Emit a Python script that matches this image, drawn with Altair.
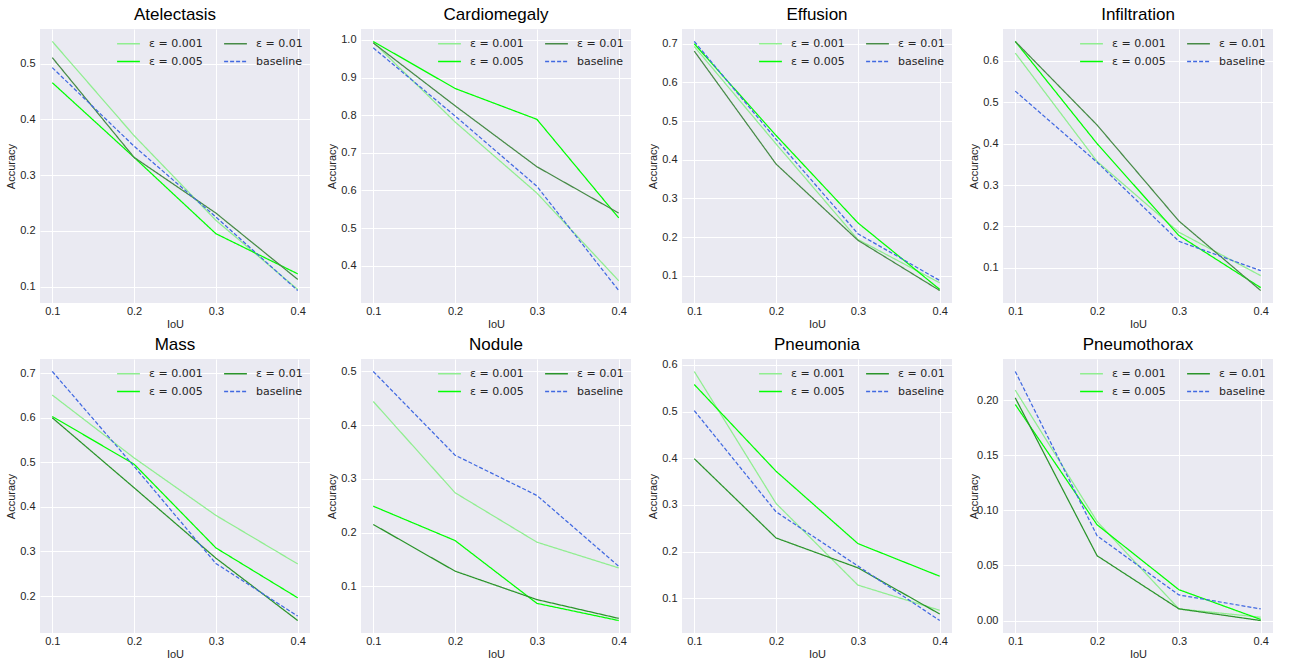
import altair as alt
import pandas as pd

# IoU thresholds on the x axis
iou = [0.1, 0.2, 0.3, 0.4]

diseases = ["Atelectasis", "Cardiomegaly", "Effusion", "Infiltration",
            "Mass", "Nodule", "Pneumonia", "Pneumothorax"]

# Localization accuracy per disease, one list per IoU threshold
acc_eps_0001 = {
    "Atelectasis":  [0.540, 0.371, 0.219, 0.095],
    "Cardiomegaly": [0.994, 0.782, 0.593, 0.360],
    "Effusion":     [0.693, 0.441, 0.194, 0.082],
    "Infiltration": [0.619, 0.357, 0.186, 0.081],
    "Mass":         [0.651, 0.510, 0.381, 0.272],
    "Nodule":       [0.444, 0.274, 0.182, 0.134],
    "Pneumonia":    [0.586, 0.303, 0.128, 0.074],
    "Pneumothorax": [0.209, 0.0899, 0.0106, 0.003],
}
acc_eps_0005 = {
    "Atelectasis":  [0.466, 0.332, 0.195, 0.123],
    "Cardiomegaly": [0.996, 0.871, 0.789, 0.527],
    "Effusion":     [0.700, 0.463, 0.237, 0.065],
    "Infiltration": [0.647, 0.400, 0.178, 0.052],
    "Mass":         [0.603, 0.496, 0.308, 0.196],
    "Nodule":       [0.249, 0.185, 0.068, 0.036],
    "Pneumonia":    [0.558, 0.372, 0.217, 0.147],
    "Pneumothorax": [0.196, 0.0869, 0.028, 0.001],
}
acc_eps_001 = {
    "Atelectasis":  [0.511, 0.332, 0.232, 0.113],
    "Cardiomegaly": [0.992, 0.825, 0.663, 0.540],
    "Effusion":     [0.681, 0.389, 0.192, 0.062],
    "Infiltration": [0.647, 0.445, 0.213, 0.045],
    "Mass":         [0.600, 0.443, 0.285, 0.145],
    "Nodule":       [0.215, 0.128, 0.075, 0.040],
    "Pneumonia":    [0.399, 0.229, 0.165, 0.066],
    "Pneumothorax": [0.202, 0.0588, 0.0106, 0.000],
}
acc_baseline = {
    "Atelectasis":  [0.493, 0.352, 0.225, 0.093],
    "Cardiomegaly": [0.979, 0.798, 0.611, 0.334],
    "Effusion":     [0.706, 0.453, 0.209, 0.088],
    "Infiltration": [0.527, 0.355, 0.164, 0.093],
    "Mass":         [0.704, 0.491, 0.273, 0.155],
    "Nodule":       [0.500, 0.344, 0.269, 0.137],
    "Pneumonia":    [0.502, 0.285, 0.169, 0.052],
    "Pneumothorax": [0.226, 0.0769, 0.0232, 0.0106],
}

# y-axis tick labels for each panel
y_ticks = {
    "Atelectasis":  [0.1, 0.2, 0.3, 0.4, 0.5],
    "Cardiomegaly": [0.3, 0.4, 0.5, 0.6, 0.7, 0.8, 0.9, 1.0],
    "Effusion":     [0.1, 0.2, 0.3, 0.4, 0.5, 0.6, 0.7],
    "Infiltration": [0.1, 0.2, 0.3, 0.4, 0.5, 0.6],
    "Mass":         [0.2, 0.3, 0.4, 0.5, 0.6, 0.7],
    "Nodule":       [0.1, 0.2, 0.3, 0.4, 0.5],
    "Pneumonia":    [0.1, 0.2, 0.3, 0.4, 0.5, 0.6],
    "Pneumothorax": [0.00, 0.05, 0.10, 0.15, 0.20],
}

series = [("ε = 0.001", acc_eps_0001), ("ε = 0.005", acc_eps_0005),
          ("ε = 0.01", acc_eps_001), ("baseline", acc_baseline)]

legend_order = [label for label, _ in series]
dashes = [[1, 0], [1, 0], [1, 0], [4, 2]]

BG = "#EAEAF2"
PW, PH = 270, 274


def panel(name, row):
    rows = []
    for label, table in series:
        for x, y in zip(iou, table[name]):
            rows.append({"iou": x, "acc": y, "series": label})
    df = pd.DataFrame(rows)

    lo, hi = df["acc"].min(), df["acc"].max()
    pad = 0.05 * (hi - lo)
    xlo, xhi = min(iou), max(iou)
    xpad = 0.05 * (xhi - xlo)

    dark = "#478b47" if row == 0 else "#2b952b"
    colors = ["#90ee90", "#00ff00", dark, "#4169e1"]
    fmt = ".2f" if name == "Pneumothorax" else ".1f"

    leg = alt.Legend(title=None, orient="none", legendX=76, legendY=2, columns=2,
                     symbolType="stroke", symbolSize=520, symbolStrokeWidth=1.3,
                     labelFont="DejaVu Sans", labelFontSize=11,
                     labelColor="#262626", labelOffset=8,
                     rowPadding=-12, columnPadding=18, padding=0)

    return alt.Chart(df).mark_line(strokeWidth=1.25).encode(
        x=alt.X("iou:Q",
                scale=alt.Scale(domain=[xlo - xpad, xhi + xpad], nice=False, zero=False),
                axis=alt.Axis(values=iou, format=".1f", title="IoU")),
        y=alt.Y("acc:Q",
                scale=alt.Scale(domain=[lo - pad, hi + pad], nice=False, zero=False),
                axis=alt.Axis(values=y_ticks[name], format=fmt, title="Accuracy")),
        color=alt.Color("series:N", scale=alt.Scale(domain=legend_order, range=colors),
                        legend=leg),
        strokeDash=alt.StrokeDash("series:N",
                                  scale=alt.Scale(domain=legend_order, range=dashes),
                                  legend=leg),
    ).properties(width=PW, height=PH, title=name)


panels = [panel(d, i // 4) for i, d in enumerate(diseases)]

chart = alt.concat(*panels, columns=4, spacing={"row": 6, "column": 16}).resolve_scale(
    color="independent", strokeDash="independent"
).properties(
    padding={"left": 5, "top": 6, "right": 5, "bottom": 4},
    background="white",
).configure_view(
    fill=BG, stroke=None
).configure_axis(
    domain=False, ticks=False, tickSize=0, grid=True, gridColor="white", gridWidth=1,
    labelFont="Liberation Sans", labelFontSize=11, labelColor="#262626", labelPadding=5,
    titleFont="Liberation Sans", titleFontSize=11, titleFontWeight="normal",
    titleColor="#262626",
).configure_axisY(
    minExtent=20, maxExtent=20, titlePadding=4,
).configure_axisX(
    labelPadding=2, titlePadding=2,
).configure_title(
    font="Liberation Sans", fontSize=17, fontWeight="normal", color="#000000", offset=5,
)

chart.save("out.html", embed_options={"renderer": "svg", "actions": False})
